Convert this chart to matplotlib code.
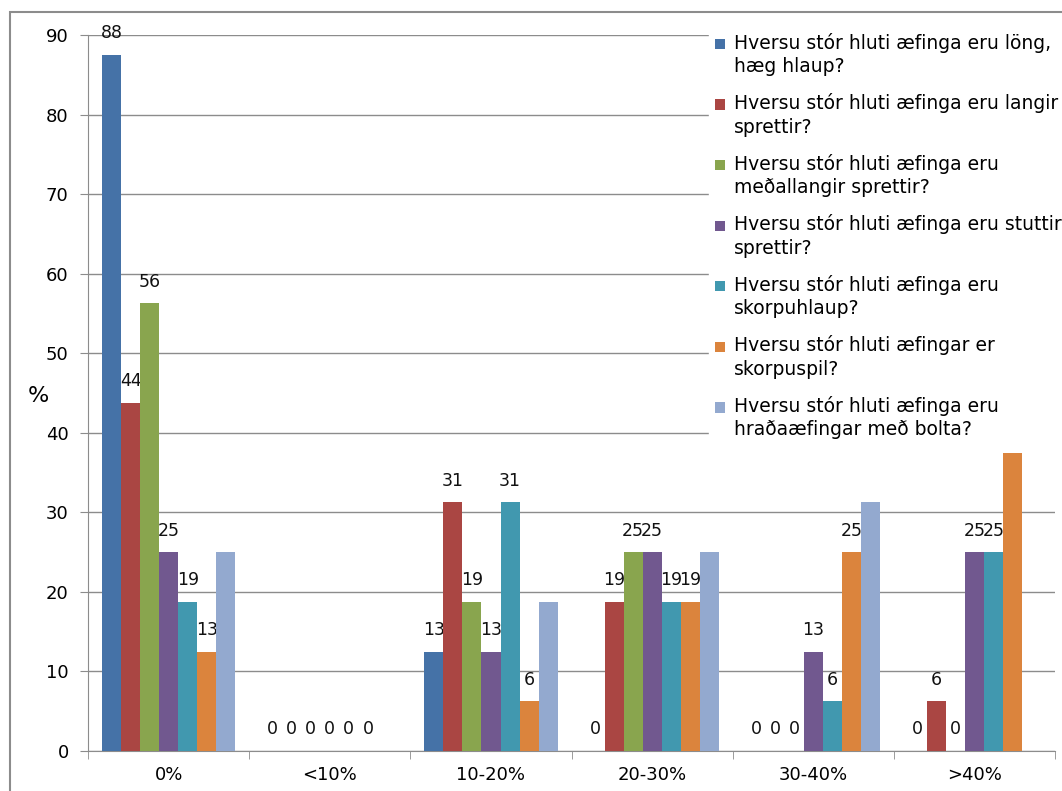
import matplotlib.pyplot as plt
from matplotlib.patches import Rectangle
from matplotlib.container import BarContainer
from matplotlib.legend_handler import HandlerPatch, update_from_first_child
import numpy as np

categories = ['0%', '<10%', '10-20%', '20-30%', '30-40%', '>40%']

series_labels = [
    'Hversu stór hluti æfinga eru löng,\nhæg hlaup?',
    'Hversu stór hluti æfinga eru langir\nsprettir?',
    'Hversu stór hluti æfinga eru\nmeðallangir sprettir?',
    'Hversu stór hluti æfinga eru stuttir\nsprettir?',
    'Hversu stór hluti æfinga eru\nskorpuhlaup?',
    'Hversu stór hluti æfingar er\nskorpuspil?',
    'Hversu stór hluti æfinga eru\nhraðaæfingar með bolta?',
]

long_slow = [87.5, 0, 12.5, 0, 0, 0]
long_sprints = [43.75, 0, 31.25, 18.75, 0, 6.25]
medium_sprints = [56.25, 0, 18.75, 25, 0, 0]
short_sprints = [25, 0, 12.5, 25, 12.5, 25]
interval_runs = [18.75, 0, 31.25, 18.75, 6.25, 25]
small_games = [12.5, 0, 6.25, 18.75, 25, 37.5]
ball_speed = [25, 0, 18.75, 25, 31.25, 0]

series = [long_slow, long_sprints, medium_sprints, short_sprints,
          interval_runs, small_games, ball_speed]

# which series carry value labels (the last one never does)
labelled = [True, True, True, True, True, True, False]

colors = ['#4572A7', '#AA4643', '#89A54E', '#71588F',
          '#4198AF', '#DB843D', '#93A9CF']

plt.rcParams['font.family'] = ['DejaVu Sans']


def top_square(legend, orig_handle, xdescent, ydescent, width, height, fontsize):
    # small key square lined up with the first line of a two-line label
    s = 0.55 * fontsize
    return Rectangle((-xdescent, -ydescent + height - s - 0.05 * fontsize), s, s)


fig = plt.figure(figsize=(10.62, 7.91), dpi=100)
ax = fig.add_axes([0.083, 0.0506, 0.9104, 0.9052])

x = np.arange(len(categories))
n = len(series)
width = 0.826 / n

for i, (vals, col) in enumerate(zip(series, colors)):
    pos = x - 0.413 + width * (i + 0.5)
    bars = ax.bar(pos, vals, width, color=col, zorder=3, label=series_labels[i])
    if labelled[i]:
        texts = [str(int(v + 0.5)) for v in vals]
        # the >40% label of the skorpuspil series sits under the legend
        if i == 5:
            texts[5] = ''
        ax.bar_label(bars, labels=texts, padding=9, fontsize=12.5,
                     color='#111111')

ax.set_xlim(-0.5, 5.5)
ax.set_ylim(0, 90)
ax.set_yticks(np.arange(0, 91, 10))
ax.yaxis.grid(True, color='#8c8c8c', linewidth=1, zorder=0)

ax.set_xticks(x)
ax.set_xticklabels(categories, fontsize=13)
ax.set_xticks(np.arange(-0.5, 6, 1), minor=True)
ax.tick_params(axis='x', which='major', length=0, pad=11)
ax.tick_params(axis='x', which='minor', length=6, color='#8c8c8c')
ax.tick_params(axis='y', length=6, color='#8c8c8c', labelsize=13, pad=8)

for side in ['top', 'right']:
    ax.spines[side].set_visible(False)
for side in ['left', 'bottom']:
    ax.spines[side].set_color('#8c8c8c')

fig.text(0.036, 0.5, '%', fontsize=16, ha='center', va='center')

key_handler = HandlerPatch(patch_func=top_square, update_func=update_from_first_child)
leg = ax.legend(loc='upper left', bbox_to_anchor=(0.668, 0.966),
                bbox_transform=fig.transFigure, frameon=True,
                facecolor='white', edgecolor='white', framealpha=1,
                fancybox=False, borderpad=0.3,
                fontsize=13.5, handlelength=0.55, handleheight=2.6,
                handletextpad=0.45, labelspacing=0.91, borderaxespad=0,
                handler_map={BarContainer: key_handler})
for t in leg.get_texts():
    t.set_linespacing(1.3)
leg.set_zorder(5)

# outer chart frame
fig.patches.append(Rectangle((0.0095, -0.05), 1.2, 1.035, transform=fig.transFigure,
                             fill=False, edgecolor='#8c8c8c', linewidth=1.5))

fig.savefig('out.png', dpi=100)
